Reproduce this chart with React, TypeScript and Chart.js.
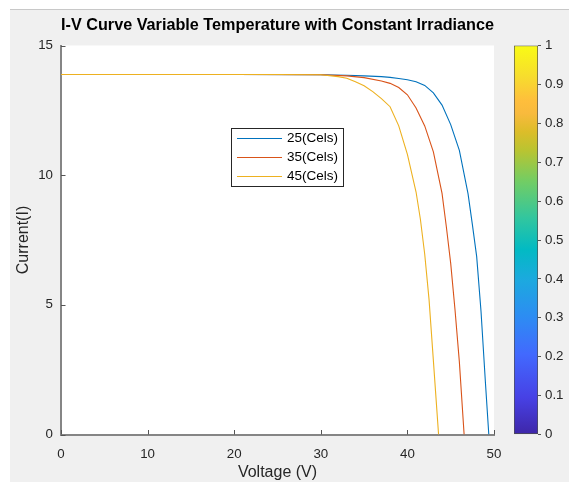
import React, { useEffect, useRef } from 'react';
import { Chart, registerables } from 'chart.js';

Chart.register(...registerables);

// ---------- data ----------
const chartTitle = 'I-V Curve Variable Temperature with Constant Irradiance';
const xAxisTitle = 'Voltage (V)';
const yAxisTitle = 'Current(I)';
const seriesLabels = ['25(Cels)', '35(Cels)', '45(Cels)'];

const voltage25 = [0, 10, 20, 30, 33, 35, 37, 38, 39, 40, 41, 42, 43, 44, 45, 46, 47, 47.5, 48, 48.5, 49, 49.4];
const current25 = [13.88, 13.88, 13.88, 13.87, 13.85, 13.83, 13.8, 13.77, 13.73, 13.68, 13.6, 13.46, 13.17, 12.7, 11.95, 10.96, 9.29, 8.1, 6.86, 4.75, 2.05, 0];

const voltage35 = [0, 10, 20, 30, 33, 35, 37, 38, 39, 40, 41, 42, 43, 44, 44.5, 45, 45.5, 46, 46.55];
const current35 = [13.88, 13.88, 13.88, 13.87, 13.83, 13.76, 13.63, 13.54, 13.38, 13.1, 12.59, 11.9, 10.9, 9.3, 8.0, 6.6, 4.8, 2.8, 0];

const voltage45 = [0, 10, 20, 25, 30, 32, 33, 34, 35, 36, 37, 38, 39, 40, 41, 41.5, 42, 42.5, 43, 43.6];
const current45 = [13.88, 13.88, 13.88, 13.88, 13.87, 13.8, 13.74, 13.6, 13.45, 13.22, 12.95, 12.64, 11.9, 10.8, 9.35, 8.3, 6.95, 5.2, 2.85, 0];

const xTickStep = 10;
const yTickStep = 5;
const colorbarRange = [0, 1];
const colorbarStep = 0.1;

// ---------- styles ----------
const FONT = '"Liberation Sans", Arial, Helvetica, sans-serif';
const seriesColors = ['#0072BD', '#D95319', '#EDB120'];
const AXIS_COLOR = '#858585';
const TEXT_COLOR = '#262626';
const parulaStops: [number, string][] = [
  [0.0, 'rgb(62,38,168)'],
  [0.095, 'rgb(71,65,229)'],
  [0.206, 'rgb(66,105,254)'],
  [0.302, 'rgb(45,140,243)'],
  [0.397, 'rgb(28,169,223)'],
  [0.476, 'rgb(2,186,195)'],
  [0.556, 'rgb(49,198,159)'],
  [0.651, 'rgb(114,205,100)'],
  [0.73, 'rgb(185,196,49)'],
  [0.778, 'rgb(220,189,41)'],
  [0.825, 'rgb(248,186,61)'],
  [0.857, 'rgb(254,190,60)'],
  [0.921, 'rgb(247,221,45)'],
  [1.0, 'rgb(249,251,21)'],
];

const CANVAS_W = 559;
const CANVAS_H = 472;

const plotBackground = {
  id: 'plotBackground',
  beforeDraw(chart: any) {
    const { ctx, chartArea: a } = chart;
    ctx.save();
    ctx.fillStyle = '#ffffff';
    ctx.fillRect(a.left, a.top, a.right - a.left, a.bottom - a.top);
    ctx.restore();
  },
};

const innerTicks = {
  id: 'innerTicks',
  afterDraw(chart: any) {
    const { ctx, chartArea: a, scales } = chart;
    const len = 4.5;
    ctx.save();
    ctx.strokeStyle = '#555';
    ctx.lineWidth = 1;
    ctx.beginPath();
    scales.x.ticks.forEach((t: any) => {
      const px = Math.round(scales.x.getPixelForValue(t.value)) + 0.5;
      ctx.moveTo(px, a.bottom);
      ctx.lineTo(px, a.bottom - len);
    });
    scales.y.ticks.forEach((t: any) => {
      const py = Math.round(scales.y.getPixelForValue(t.value)) + 0.5;
      ctx.moveTo(a.left, py);
      ctx.lineTo(a.left + len, py);
    });
    ctx.stroke();
    ctx.restore();
  },
};

const boxLegend = {
  id: 'boxLegend',
  afterDraw(chart: any) {
    const { ctx, chartArea: a } = chart;
    const left = Math.round(a.left + 170);
    const top = Math.round(a.top + 82.5);
    const w = 112;
    const h = 58;
    ctx.save();
    ctx.fillStyle = '#ffffff';
    ctx.fillRect(left, top, w, h);
    ctx.strokeStyle = '#262626';
    ctx.lineWidth = 1;
    ctx.strokeRect(left + 0.5, top + 0.5, w, h);
    ctx.font = `13.5px ${FONT}`;
    ctx.textBaseline = 'middle';
    ctx.textAlign = 'left';
    chart.data.datasets.forEach((ds: any, i: number) => {
      const y = Math.round(top + 10 + i * 19) + 0.5;
      ctx.strokeStyle = ds.borderColor;
      ctx.beginPath();
      ctx.moveTo(left + 6, y);
      ctx.lineTo(left + 51, y);
      ctx.stroke();
      ctx.fillStyle = '#000';
      ctx.fillText(ds.label, left + 56, y);
    });
    ctx.restore();
  },
};

function toPoints(xs: number[], ys: number[]) {
  return xs.map((x, i) => ({ x, y: ys[i] }));
}

export default function App() {
  const mainRef = useRef<HTMLCanvasElement>(null);
  const barRef = useRef<HTMLCanvasElement>(null);

  useEffect(() => {
    if (!mainRef.current || !barRef.current) return;
    const series = [
      toPoints(voltage25, current25),
      toPoints(voltage35, current35),
      toPoints(voltage45, current45),
    ];
    const tickFont = { family: FONT, size: 13.3 };
    const main = new Chart(mainRef.current, {
      type: 'scatter',
      data: {
        datasets: series.map((pts, i) => ({
          label: seriesLabels[i],
          data: pts,
          showLine: true,
          borderColor: seriesColors[i],
          backgroundColor: seriesColors[i],
          borderWidth: 1.1,
          pointRadius: 0,
          tension: 0,
          order: 2 - i,
        })),
      },
      options: {
        animation: false,
        responsive: false,
        events: [],
        layout: { padding: { left: 0, right: 75, top: 0, bottom: 0 } },
        plugins: {
          legend: { display: false },
          tooltip: { enabled: false },
          title: {
            display: true,
            text: chartTitle,
            fullSize: false,
            color: '#000',
            font: { family: FONT, size: 16.5, weight: 'bold', lineHeight: 1.2 },
            padding: { top: 5.3, bottom: 10.4 },
          },
        },
        scales: {
          x: {
            type: 'linear',
            min: 0,
            max: 50,
            ticks: { stepSize: xTickStep, color: TEXT_COLOR, font: tickFont, padding: 11.5 },
            grid: { drawOnChartArea: false, drawTicks: false },
            border: { color: AXIS_COLOR, width: 2 },
            title: {
              display: true,
              text: xAxisTitle,
              color: TEXT_COLOR,
              font: { family: FONT, size: 16, lineHeight: 1.2 },
              padding: { top: 0, bottom: 0 },
            },
            afterFit: (s: any) => {
              s.height = 47.5;
            },
          },
          y: {
            type: 'linear',
            min: 0,
            max: 15,
            ticks: { stepSize: yTickStep, color: TEXT_COLOR, font: tickFont, padding: 8 },
            grid: { drawOnChartArea: false, drawTicks: false },
            border: { color: AXIS_COLOR, width: 2 },
            title: {
              display: true,
              text: yAxisTitle,
              color: TEXT_COLOR,
              font: { family: FONT, size: 16, lineHeight: 1.2 },
              padding: { top: 3.9, bottom: 0 },
            },
            afterFit: (s: any) => {
              s.width = 51;
            },
          },
        },
      } as any,
      plugins: [plotBackground, innerTicks, boxLegend],
    });

    const colorbar = new Chart(barRef.current, {
      type: 'bar',
      data: {
        labels: [''],
        datasets: [
          {
            data: [colorbarRange as [number, number]],
            backgroundColor: (c: any) => {
              const chart = c.chart;
              const a = chart.chartArea;
              if (!a) return parulaStops[0][1];
              const g = chart.ctx.createLinearGradient(0, a.bottom, 0, a.top);
              parulaStops.forEach(([p, col]) => g.addColorStop(p, col));
              return g;
            },
            borderColor: '#4d4d4d',
            borderWidth: 1,
            borderSkipped: false,
            barPercentage: 1,
            categoryPercentage: 1,
          },
        ],
      },
      options: {
        animation: false,
        responsive: false,
        events: [],
        layout: { padding: { left: 504, right: 0, top: 35.5, bottom: 47.5 } },
        plugins: { legend: { display: false }, tooltip: { enabled: false } },
        scales: {
          x: { display: false },
          y: {
            position: 'right',
            min: colorbarRange[0],
            max: colorbarRange[1],
            ticks: {
              stepSize: colorbarStep,
              color: TEXT_COLOR,
              font: tickFont,
              padding: 4,
              callback: (v: any) => String(Number(Number(v).toFixed(1))),
            },
            grid: { drawOnChartArea: false, drawTicks: true, tickLength: 3, color: '#555' },
            border: { display: false },
            afterFit: (s: any) => {
              s.width = 31;
            },
          },
        },
      } as any,
    });

    return () => {
      main.destroy();
      colorbar.destroy();
    };
  }, []);

  return (
    <div
      style={{
        position: 'absolute',
        left: 10,
        top: 9,
        width: CANVAS_W,
        height: CANVAS_H,
        background: '#f0f0f0',
        borderTop: '1px solid #c8c8c8',
      }}
    >
      <canvas
        ref={mainRef}
        width={CANVAS_W}
        height={CANVAS_H}
        style={{ position: 'absolute', left: 0, top: 0 }}
      />
      <canvas
        ref={barRef}
        width={CANVAS_W}
        height={CANVAS_H}
        style={{ position: 'absolute', left: 0, top: 0 }}
      />
    </div>
  );
}
